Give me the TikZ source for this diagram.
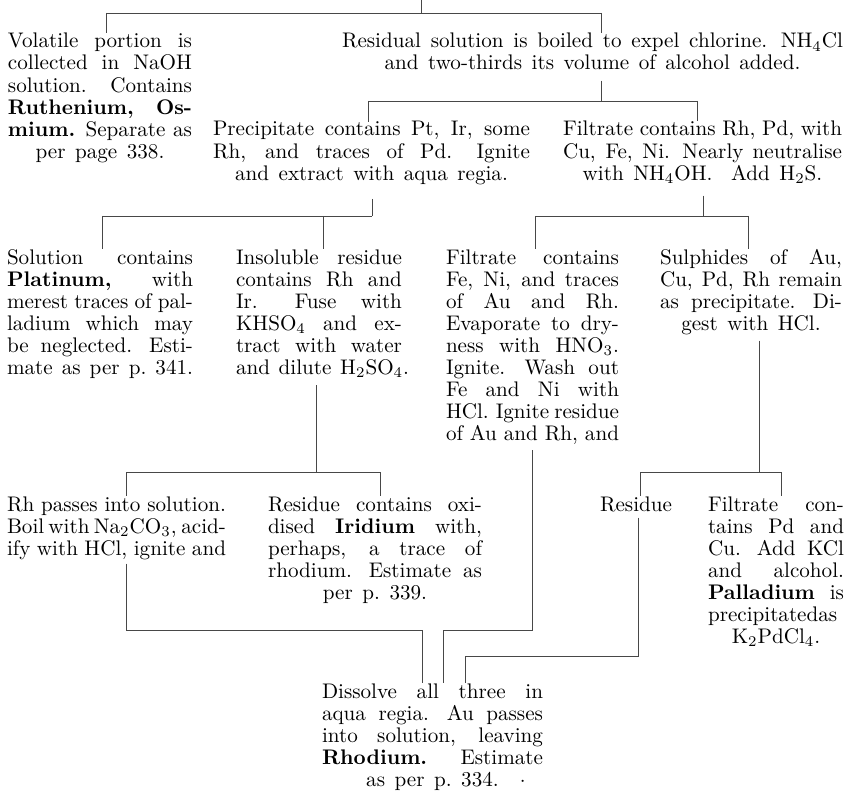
\documentclass[tikz,border=0pt]{standalone}
\usetikzlibrary{calc}
\newcommand\lnJ[1]{\leavevmode\hbox to\hsize{\spaceskip=3.4pt plus 30pt minus 1.4pt\xspaceskip=4.4pt plus 48pt minus 1.6pt\relax #1}}
\newcommand\lnC[1]{\leavevmode\hbox to\hsize{\spaceskip=4.6pt plus 1pt minus 1pt\xspaceskip=6pt plus 1pt minus 1pt\relax\hss #1\hss}}
\newcommand\lnL[1]{\leavevmode\hbox to\hsize{\spaceskip=4.2pt plus 1pt minus 1pt\relax #1\hss}}
\newcommand\sbs[1]{\textsubscript{#1}}
\begin{document}
\begin{tikzpicture}[x=0.4831pt,y=-0.4831pt,
  txt/.style={inner sep=0pt,outer sep=0pt,anchor=base west,align=left,font=\fontsize{10.2}{10.63}\selectfont},
  ln/.style={line width=0.45pt,draw=black!72}]
\fill[white] (0,0) rectangle (849,794);
\useasboundingbox (0,0) rectangle (849,794);

% ---------- texts ----------
\node[txt,text width=88.89pt] (vol) at (8,48) {%
\lnJ{Volatile portion is}\\
\lnJ{collected in NaOH}\\
\lnJ{solution. Contains}\\
\lnJ{\textbf{Ruthenium, Os-}}\\
\lnJ{\textbf{mium.} Separate as}\\
\lnC{per page 338.}};

\node[txt,text width=242.03pt] (res) at (342,48) {%
\lnJ{Residual solution is boiled to expel chlorine. NH\sbs{4}Cl}\\
\lnC{and two-thirds its volume of alcohol added.}};

\node[txt,text width=153.14pt] (prec) at (213,136) {%
\lnJ{Precipitate contains Pt, Ir, some}\\
\lnJ{Rh, and traces of Pd. Ignite}\\
\lnC{and extract with aqua regia.}};

\node[txt,text width=134.78pt] (filt) at (563,136) {%
\lnJ{Filtrate contains Rh, Pd, with}\\
\lnJ{Cu, Fe, Ni. Nearly neutralise}\\
\lnC{with NH\sbs{4}OH.\hspace{9pt}Add H\sbs{2}S.}};

\node[txt,text width=89.86pt] (sol) at (7,264) {%
\lnJ{Solution contains}\\
\lnJ{\textbf{Platinum,} with}\\
\lnJ{merest traces of pal-}\\
\lnJ{ladium which may}\\
\lnJ{be neglected. Esti-}\\
\lnJ{mate as per p.\ 341.}};

\node[txt,text width=80.19pt] (ins) at (236,264) {%
\lnJ{Insoluble residue}\\
\lnJ{contains Rh and}\\
\lnJ{Ir. Fuse with}\\
\lnJ{KHSO\sbs{4} and ex-}\\
\lnJ{tract with water}\\
\lnL{and dilute H\sbs{2}SO\sbs{4}.}};

\node[txt,text width=83.57pt] (fnc) at (446,264) {%
\lnJ{Filtrate contains}\\
\lnJ{Fe, Ni, and traces}\\
\lnJ{of Au and Rh.}\\
\lnJ{Evaporate to dry-}\\
\lnJ{ness with HNO\sbs{3}.}\\
\lnJ{Ignite. Wash out}\\
\lnJ{Fe and Ni with}\\
\lnJ{HCl. Ignite residue}\\
\lnJ{of Au and Rh, and}};

\node[txt,text width=87.92pt] (sul) at (660,264) {%
\lnJ{Sulphides of Au,}\\
\lnJ{Cu, Pd, Rh remain}\\
\lnJ{as precipitate. Di-}\\
\lnC{gest with HCl.}};

\node[txt,text width=105.80pt] (rhp) at (7,511) {%
\lnJ{Rh passes into solution.}\\
\lnJ{Boil with Na\sbs{2}CO\sbs{3}, acid-}\\
\lnJ{ify with HCl, ignite and}};

\node[txt,text width=103.38pt] (iri) at (268,511) {%
\lnJ{Residue contains oxi-}\\
\lnJ{dised \textbf{Iridium} with,}\\
\lnJ{perhaps, a trace of}\\
\lnJ{rhodium. Estimate as}\\
\lnC{per p.\ 339.}};

\node[txt,anchor=base] (rsd) at (636,511) {Residue};

\node[txt,text width=65.70pt] (pdf) at (708,511) {%
\lnJ{Filtrate con-}\\
\lnJ{tains Pd and}\\
\lnJ{Cu. Add KCl}\\
\lnJ{and alcohol.}\\
\lnJ{\textbf{Palladium} is}\\
\lnJ{precipitatedas}\\
\lnC{K\sbs{2}PdCl\sbs{4}.}};

\node[txt,text width=106.77pt] (dis) at (322,698) {%
\lnJ{Dissolve all three in}\\
\lnJ{aqua regia. Au passes}\\
\lnJ{into solution, leaving}\\
\lnJ{\textbf{Rhodium.} Estimate}\\
\lnC{as per p.\ 334.\rlap{\hspace{1.0em}$\cdot$}}};

% ---------- connectors ----------
\coordinate (t0) at (421,0);
\coordinate (t1) at (421,13);
\coordinate (tL) at (106,13);
\coordinate (tR) at (601,13);
\draw[ln] (t0) -- (t1);
\draw[ln] (tL) -- (tR);
\draw[ln] (tL) -- (tL |- vol.north);
\draw[ln] (tR) -- (tR |- res.north);

\coordinate (r0) at (601,101);
\coordinate (rL) at (368,101);
\coordinate (rR) at (697,101);
\draw[ln,shorten <=5pt] (r0 |- res.south) -- (r0);
\draw[ln] (rL) -- (rR);
\draw[ln] (rL) -- (rL |- prec.north);
\draw[ln] (rR) -- (rR |- filt.north);

\coordinate (p0) at (372,216);
\coordinate (pL) at (102,216);
\coordinate (pR) at (323,216);
\draw[ln,shorten <=7pt] (p0 |- prec.south) -- (p0);
\draw[ln] (pL) -- (p0);
\draw[ln] (pL) -- (pL |- sol.north);
\draw[ln] (pR) -- (pR |- ins.north);

\coordinate (f0) at (703,216);
\coordinate (fL) at (535,216);
\coordinate (fR) at (748,216);
\draw[ln,shorten <=6pt] (f0 |- filt.south) -- (f0);
\draw[ln] (fL) -- (fR);
\draw[ln] (fL) -- (fL |- fnc.north);
\draw[ln] (fR) -- (fR |- sul.north);

\coordinate (b0) at (316,472);
\coordinate (bL) at (126,472);
\coordinate (bR) at (380,472);
\draw[ln,shorten <=4pt] (b0 |- ins.south) -- (b0);
\draw[ln] (bL) -- (bR);
\draw[ln] (bL) -- (bL |- rhp.north);
\draw[ln] (bR) -- (bR |- iri.north);

\coordinate (d0) at (759,472);
\coordinate (dL) at (640,472);
\coordinate (dR) at (781,472);
\draw[ln,shorten <=3pt] (d0 |- sul.south) -- (d0);
\draw[ln] (dL) -- (dR);
\draw[ln] (dL) -- (dL |- rsd.north);
\draw[ln] (dR) -- (dR |- pdf.north);

\coordinate (e0) at (126,630);
\coordinate (eR) at (422,630);
\draw[ln,shorten <=2pt] (e0 |- rhp.south) -- (e0) -- (eR) -- (eR |- dis.north);

\coordinate (c0) at (532,630);
\coordinate (cL) at (443,630);
\draw[ln,shorten <=3pt] (c0 |- fnc.south) -- (c0) -- (cL) -- (cL |- dis.north);

\coordinate (g0) at (638,656);
\coordinate (gL) at (465,656);
\draw[ln,shorten <=3pt] (g0 |- rsd.south) -- (g0) -- (gL) -- (gL |- dis.north);
\end{tikzpicture}
\end{document}
